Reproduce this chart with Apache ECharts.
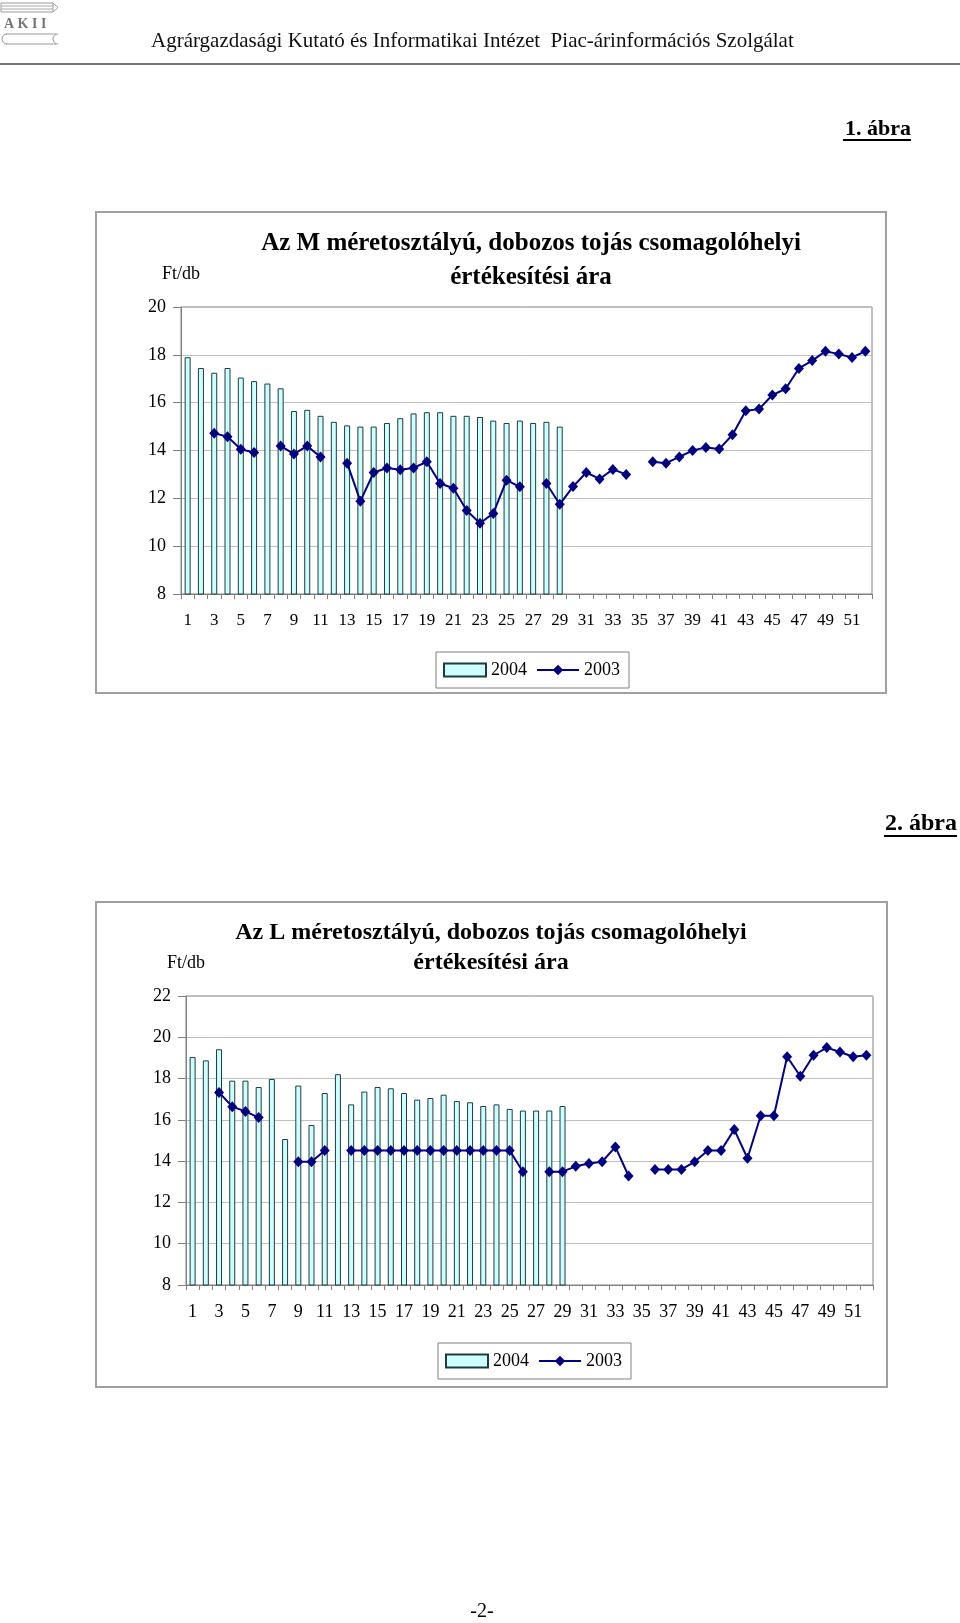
<!DOCTYPE html>
<html>
<head>
<meta charset="utf-8">
<script src="https://cdn.jsdelivr.net/npm/echarts@6/dist/echarts.min.js"></script>
<style>
  html, body { margin: 0; padding: 0; background: #fff; }
  #page { width: 960px; height: 1623px; }
</style>
</head>
<body>
<div id="page"></div>
<script>
// hetek (x tengely)
var weeks = ['1','2','3','4','5','6','7','8','9','10','11','12','13','14','15','16','17','18','19','20',
  '21','22','23','24','25','26','27','28','29','30','31','32','33','34','35','36','37','38','39','40',
  '41','42','43','44','45','46','47','48','49','50','51','52'];

// 1. ábra - M méretosztály
var m2004 = [17.9, 17.45, 17.25, 17.45, 17.05, 16.9, 16.8, 16.6, 15.65, 15.7, 15.45, 15.2, 15.05, 15.0, 15.0,
  15.15, 15.35, 15.55, 15.6, 15.6, 15.45, 15.45, 15.4, 15.25, 15.15, 15.25, 15.15, 15.2, 15.0];
var m2003 = [null, null, 14.72, 14.58, 14.05, 13.92, null, 14.19, 13.85, 14.19, 13.73, null, 13.47, 11.88, 13.08,
  13.27, 13.2, 13.27, 13.53, 12.62, 12.42, 11.49, 10.96, 11.37, 12.76, 12.48, null, 12.62, 11.75, 12.49,
  13.08, 12.81, 13.21, 13.0, null, 13.53, 13.47, 13.73, 14.0, 14.13, 14.06, 14.66, 15.66, 15.73, 16.32,
  16.58, 17.43, 17.76, 18.15, 18.03, 17.89, 18.15];

// 2. ábra - L méretosztály
var l2004 = [19.04, 18.88, 19.42, 17.9, 17.9, 17.59, 17.98, 15.07, 17.66, 15.75, 17.3, 18.21, 16.75, 17.37, 17.59,
  17.53, 17.3, 16.98, 17.06, 17.22, 16.91, 16.85, 16.67, 16.75, 16.53, 16.45, 16.45, 16.45, 16.67];
var l2003 = [null, null, 17.33, 16.64, 16.41, 16.11, null, null, 13.97, 13.97, 14.52, null, 14.52, 14.52, 14.52,
  14.52, 14.52, 14.52, 14.52, 14.52, 14.52, 14.52, 14.52, 14.52, 14.52, 13.49, null, 13.49, 13.49, 13.75,
  13.89, 13.97, 14.69, 13.28, null, 13.6, 13.6, 13.6, 13.97, 14.52, 14.52, 15.53, 14.14, 16.2, 16.2,
  19.06, 18.11, 19.13, 19.5, 19.29, 19.06, 19.13];

var title1 = 'Az M méretosztályú, dobozos tojás csomagolóhelyi\nértékesítési ára';
var title2 = 'Az L méretosztályú, dobozos tojás csomagolóhelyi\nértékesítési ára';

var serif = '"Liberation Serif", "DejaVu Serif", serif';
var barColor = '#ccffff';
var barBorder = '#1e3c3c';
var lineColor = '#000080';

function xAxisFor(grid, size) {
  return {
    type: 'category',
    gridIndex: grid,
    data: weeks,
    axisLine: { lineStyle: { color: '#808080', width: 1 } },
    axisTick: { show: true, interval: 0, length: 5, lineStyle: { color: '#808080' } },
    axisLabel: { interval: 1, fontFamily: serif, fontSize: size, color: '#000', margin: 18 },
    splitLine: { show: false }
  };
}

function yAxisFor(grid, max, size) {
  return {
    type: 'value',
    gridIndex: grid,
    min: 8,
    max: max,
    interval: 2,
    name: 'Ft/db',
    nameLocation: 'end',
    nameGap: 24,
    nameTextStyle: { fontFamily: serif, fontSize: size, color: '#000', align: 'center' },
    axisLine: { show: true, lineStyle: { color: '#808080', width: 1 } },
    axisTick: { show: true, length: 8, lineStyle: { color: '#808080' } },
    axisLabel: { fontFamily: serif, fontSize: size, color: '#000', margin: 15 },
    splitLine: { show: true, lineStyle: { color: '#c0c0c0', width: 1 } }
  };
}

function barSeries(idx, data) {
  return {
    name: '2004',
    type: 'bar',
    xAxisIndex: idx,
    yAxisIndex: idx,
    barWidth: 6,
    data: data,
    itemStyle: { color: barColor, borderColor: barBorder, borderWidth: 1 },
    animation: false
  };
}

function lineSeries(idx, data) {
  return {
    name: '2003',
    type: 'line',
    xAxisIndex: idx,
    yAxisIndex: idx,
    data: data,
    symbol: 'diamond',
    symbolSize: [10, 11],
    showAllSymbol: true,
    showSymbol: true,
    lineStyle: { color: lineColor, width: 2 },
    itemStyle: { color: lineColor },
    z: 5,
    animation: false
  };
}

function legendFor(left, top) {
  return {
    left: left,
    top: top,
    orient: 'horizontal',
    itemWidth: 42,
    itemHeight: 13,
    itemGap: 9,
    padding: [9, 9, 9, 7],
    borderColor: '#808080',
    borderWidth: 1,
    textStyle: { fontFamily: serif, fontSize: 18, color: '#000' },
    data: [{ name: '2004', icon: 'rect' }, { name: '2003' }]
  };
}

var chart = echarts.init(document.getElementById('page'), null, { renderer: 'canvas' });

chart.setOption({
  backgroundColor: '#fff',
  animation: false,
  title: [
    {
      text: title1, left: 531, top: 227, padding: 0, textAlign: 'center',
      textStyle: { fontFamily: serif, fontSize: 25, fontWeight: 'bold', color: '#000', lineHeight: 33.5 }
    },
    {
      text: title2, left: 491, top: 918, padding: 0, textAlign: 'center',
      textStyle: { fontFamily: serif, fontSize: 24, fontWeight: 'bold', color: '#000', lineHeight: 30 }
    }
  ],
  grid: [
    { left: 181, top: 307, width: 691, height: 287, containLabel: false, show: true, borderColor: '#808080', borderWidth: 1 },
    { left: 186, top: 996, width: 687, height: 289, containLabel: false, show: true, borderColor: '#808080', borderWidth: 1 }
  ],
  legend: [legendFor(436, 652), legendFor(438, 1343)],
  xAxis: [xAxisFor(0, 17), xAxisFor(1, 18)],
  yAxis: [yAxisFor(0, 20, 18), yAxisFor(1, 22, 18)],
  series: [
    barSeries(0, m2004),
    lineSeries(0, m2003),
    barSeries(1, l2004),
    lineSeries(1, l2003)
  ],
  graphic: [
    // logo
    { type: 'rect', shape: { x: 1, y: 3, width: 52, height: 9 }, style: { fill: '#fff', stroke: '#999', lineWidth: 1 } },
    { type: 'line', shape: { x1: 1, y1: 6, x2: 53, y2: 6 }, style: { stroke: '#aaa', lineWidth: 1 } },
    { type: 'line', shape: { x1: 1, y1: 9, x2: 53, y2: 9 }, style: { stroke: '#aaa', lineWidth: 1 } },
    { type: 'polyline', shape: { points: [[53, 3], [58, 7.5], [53, 12]] }, style: { fill: 'none', stroke: '#999', lineWidth: 1 } },
    { type: 'text', style: { x: 4, y: 24, text: 'A K I I', textVerticalAlign: 'middle', font: 'bold 14px ' + serif, fill: '#777' } },
    { type: 'line', shape: { x1: 6, y1: 34, x2: 56, y2: 34 }, style: { stroke: '#999', lineWidth: 1 } },
    { type: 'line', shape: { x1: 6, y1: 44, x2: 56, y2: 44 }, style: { stroke: '#999', lineWidth: 1 } },
    { type: 'arc', shape: { cx: 7, cy: 39, r: 5, startAngle: Math.PI / 2, endAngle: Math.PI * 1.5 }, style: { fill: 'none', stroke: '#999', lineWidth: 1 } },
    { type: 'arc', shape: { cx: 58, cy: 39, r: 5, startAngle: Math.PI / 2, endAngle: Math.PI * 1.5 }, style: { fill: 'none', stroke: '#999', lineWidth: 1 } },
    // fejléc
    { type: 'text', style: { x: 151, y: 41, text: 'Agrárgazdasági Kutató és Informatikai Intézet  Piac-árinformációs Szolgálat', textVerticalAlign: 'middle', font: '21px ' + serif, fill: '#111' } },
    { type: 'line', shape: { x1: 0, y1: 64, x2: 960, y2: 64 }, style: { stroke: '#444', lineWidth: 1.5 } },
    // ábra címkék
    { type: 'text', style: { x: 911, y: 129, text: '1. ábra', textAlign: 'right', textVerticalAlign: 'middle', font: 'bold 22px ' + serif, fill: '#000' } },
    { type: 'line', shape: { x1: 843, y1: 140, x2: 911, y2: 140 }, style: { stroke: '#000', lineWidth: 2 } },
    { type: 'text', style: { x: 957, y: 824, text: '2. ábra', textAlign: 'right', textVerticalAlign: 'middle', font: 'bold 24px ' + serif, fill: '#000' } },
    { type: 'line', shape: { x1: 884, y1: 836, x2: 957, y2: 836 }, style: { stroke: '#000', lineWidth: 2 } },
    // diagram keretek
    { type: 'rect', shape: { x: 96, y: 212, width: 790, height: 481 }, style: { fill: 'none', stroke: '#a0a0a0', lineWidth: 2 }, z: -1 },
    { type: 'rect', shape: { x: 96, y: 902, width: 791, height: 485 }, style: { fill: 'none', stroke: '#a0a0a0', lineWidth: 2 }, z: -1 },
    // oldalszám
    { type: 'text', style: { x: 482, y: 1612, text: '-2-', textAlign: 'center', textVerticalAlign: 'middle', font: '20px ' + serif, fill: '#000' } }
  ]
});

window.addEventListener('resize', function () {
  chart.resize();
});
</script>
</body>
</html>
